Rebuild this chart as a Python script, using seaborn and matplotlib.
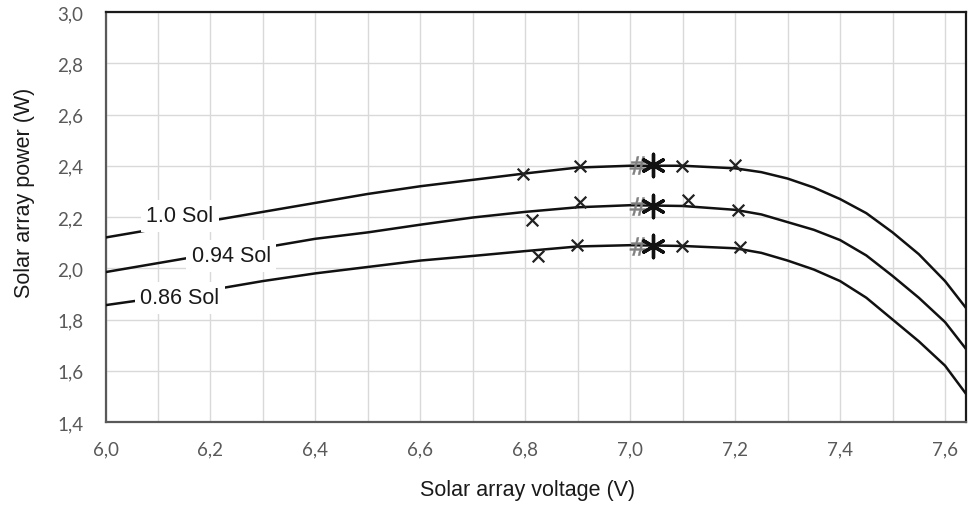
import matplotlib
matplotlib.use("Agg")
import matplotlib.pyplot as plt
from matplotlib.ticker import MultipleLocator, FuncFormatter
import seaborn as sns
import pandas as pd

# curve data
voltage = [6.0, 6.1, 6.2, 6.3, 6.4, 6.5, 6.6, 6.7, 6.8, 6.9, 7.0, 7.1, 7.2,
           7.25, 7.3, 7.35, 7.4, 7.45, 7.5, 7.55, 7.6, 7.64]
power_100 = [2.12, 2.155, 2.185, 2.22, 2.255, 2.29, 2.32, 2.345, 2.37, 2.393, 2.40, 2.40, 2.39,
             2.375, 2.35, 2.315, 2.27, 2.215, 2.14, 2.055, 1.95, 1.845]
power_094 = [1.985, 2.02, 2.055, 2.08, 2.115, 2.14, 2.17, 2.198, 2.22, 2.238, 2.246, 2.243, 2.228,
             2.21, 2.18, 2.15, 2.11, 2.05, 1.97, 1.885, 1.79, 1.685]
power_086 = [1.856, 1.885, 1.915, 1.95, 1.98, 2.005, 2.03, 2.048, 2.067, 2.085, 2.09, 2.087, 2.078,
             2.06, 2.03, 1.995, 1.95, 1.885, 1.80, 1.715, 1.62, 1.51]
sol_labels = ["1.0 Sol", "0.94 Sol", "0.86 Sol"]

# measured points (x markers)
meas_v_100 = [6.795, 6.904, 7.098, 7.20]
meas_p_100 = [2.368, 2.399, 2.399, 2.403]
meas_v_094 = [6.812, 6.904, 7.11, 7.205]
meas_p_094 = [2.19, 2.259, 2.266, 2.227]
meas_v_086 = [6.824, 6.898, 7.098, 7.21]
meas_p_086 = [2.048, 2.09, 2.087, 2.083]

# max power points
hash_v = [7.014, 7.014, 7.014]
star_v = [7.043, 7.043, 7.043]
mpp_p = [2.403, 2.243, 2.087]

# label positions
label_v = [6.142, 6.24, 6.142]
label_p = [2.204, 2.048, 1.884]

curves = pd.concat([
    pd.DataFrame({"V": voltage, "P": p, "sol": s})
    for p, s in zip([power_100, power_094, power_086], sol_labels)
])
meas = pd.concat([
    pd.DataFrame({"V": v, "P": p, "sol": s})
    for v, p, s in zip([meas_v_100, meas_v_094, meas_v_086],
                       [meas_p_100, meas_p_094, meas_p_086], sol_labels)
])

sns.set_theme(style="whitegrid")
plt.rcParams["font.family"] = ["Liberation Sans", "DejaVu Sans"]

fig = plt.figure(figsize=(9.68, 5.06), dpi=100)
ax = fig.add_axes([105.5 / 968, 1 - 423 / 506, (966 - 105.5) / 968, (423 - 13) / 506])

sns.lineplot(data=curves, x="V", y="P", hue="sol", units="sol", estimator=None, sort=False,
             palette=["#111111"] * 3, linewidth=1.8, legend=False, ax=ax, zorder=3)
sns.scatterplot(data=meas, x="V", y="P", marker="x", color="#222222", s=70,
                linewidth=1.6, legend=False, ax=ax, zorder=4)
ax.scatter(hash_v, mpp_p, marker="$\\#$", color="#808080", s=170, linewidths=0.3, zorder=4)
ax.scatter(star_v, mpp_p, marker=(6, 2, 0), color="#111111", s=260, linewidths=2.4, zorder=5)

for v, p, s in zip(label_v, label_p, sol_labels):
    ax.text(v, p, s, fontsize=15.5, ha="center", va="center", color="#1a1a1a", zorder=6,
            bbox=dict(boxstyle="square,pad=0.25", fc="white", ec="none"))

ax.set_xlim(6.0, 7.64)
ax.set_ylim(1.4, 3.0)
ax.xaxis.set_major_locator(MultipleLocator(0.2))
ax.xaxis.set_minor_locator(MultipleLocator(0.1))
ax.yaxis.set_major_locator(MultipleLocator(0.2))
comma = FuncFormatter(lambda x, pos: f"{x:.1f}".replace(".", ","))
ax.xaxis.set_major_formatter(comma)
ax.yaxis.set_major_formatter(comma)

ax.grid(which="major", color="#d9d9d9", linewidth=1.0)
ax.grid(which="minor", axis="x", color="#d9d9d9", linewidth=1.0)
ax.tick_params(which="both", length=0)
ax.tick_params(axis="x", pad=13)
ax.tick_params(axis="y", pad=16)
for lab in ax.get_xticklabels() + ax.get_yticklabels():
    lab.set_fontfamily("Lato")
    lab.set_fontsize(13.5)
    lab.set_color("#595959")

for side in ["top", "right"]:
    ax.spines[side].set_color("#1a1a1a")
    ax.spines[side].set_linewidth(1.6)
for side in ["left", "bottom"]:
    ax.spines[side].set_color("#595959")
    ax.spines[side].set_linewidth(1.6)

ax.set_xlabel("Solar array voltage (V)", fontsize=15.5, color="#1a1a1a")
ax.set_ylabel("Solar array power (W)", fontsize=15.5, color="#1a1a1a")
ax.xaxis.set_label_coords(0.49, -0.14)
ax.yaxis.set_label_coords(-0.082, (423 - 193) / 410)

fig.savefig("out.png", dpi=100)
